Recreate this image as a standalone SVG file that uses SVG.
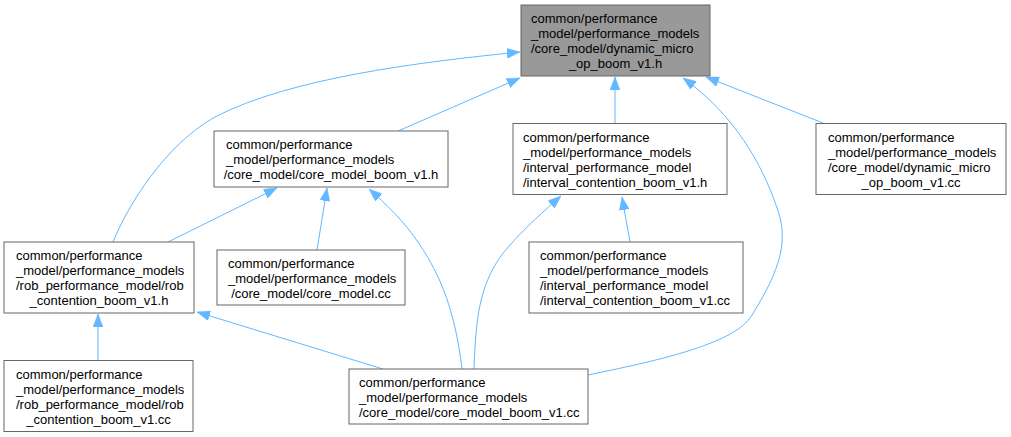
<svg xmlns="http://www.w3.org/2000/svg" width="1011" height="437" viewBox="0 0 1011 437">
<style>
.n rect{fill:#ffffff;stroke:#666666;stroke-width:1}
.n.cur rect{fill:#999999}
.n text{font-family:"Liberation Sans",Arial,Helvetica,sans-serif;font-size:13px;fill:#000000}
.n text.c{text-anchor:middle}
#edges path{fill:none;stroke:#63b8ff;stroke-width:1;marker-end:url(#arr)}
</style>
<defs>
<marker id="arr" markerUnits="userSpaceOnUse" viewBox="0 0 13 10" refX="13" refY="5" markerWidth="13" markerHeight="10" orient="auto">
<path d="M0,0 L13,5 L0,10 z" fill="#63b8ff" stroke="#63b8ff" stroke-width="0.5"/>
</marker>
</defs>
<rect width="1011" height="437" fill="#ffffff"/>
<g id="edges">
<path d="M113,242 C128,205 165,145 215,117 C290,78 420,62 520,52"/>
<path d="M398,131 L520,78"/>
<path d="M615,124 L615,77"/>
<path d="M823,123 L706,77"/>
<path d="M588,375 C650,362 735,345 752,315 C780,270 790,240 776,205 C762,165 735,115 683,78"/>
<path d="M168,242 L277,188"/>
<path d="M317,250 L327,188"/>
<path d="M462,369 C455,310 440,275 420,245 C405,222 385,203 369,189"/>
<path d="M474,369 C476,320 478,280 510,245 C525,228 545,210 561,196"/>
<path d="M630,242 L622,197"/>
<path d="M98,360 L98,314"/>
<path d="M383,369 L197,312"/>
</g>
<g id="n_dynamic_h" class="n cur">
<rect x="521" y="5" width="189" height="71"/>
<text x="531" y="23">common/performance</text>
<text x="531" y="38">_model/performance_models</text>
<text x="531" y="53">/core_model/dynamic_micro</text>
<text class="c" x="615.5" y="68">_op_boom_v1.h</text>
</g>
<g id="n_core_model_boom_h" class="n">
<rect x="214" y="131" width="234" height="56"/>
<text x="226" y="149">common/performance</text>
<text x="226" y="164">_model/performance_models</text>
<text class="c" x="331" y="179">/core_model/core_model_boom_v1.h</text>
</g>
<g id="n_interval_h" class="n">
<rect x="513" y="123.5" width="214" height="71"/>
<text x="523" y="141.5">common/performance</text>
<text x="523" y="156.5">_model/performance_models</text>
<text x="523" y="171.5">/interval_performance_model</text>
<text x="523" y="186.5">/interval_contention_boom_v1.h</text>
</g>
<g id="n_dynamic_cc" class="n">
<rect x="816" y="123.5" width="190" height="71"/>
<text x="828" y="141.5">common/performance</text>
<text x="828" y="156.5">_model/performance_models</text>
<text x="828" y="171.5">/core_model/dynamic_micro</text>
<text class="c" x="911" y="186.5">_op_boom_v1.cc</text>
</g>
<g id="n_rob_h" class="n">
<rect x="4" y="242" width="190" height="71"/>
<text x="16" y="260">common/performance</text>
<text x="16" y="275">_model/performance_models</text>
<text x="16" y="290">/rob_performance_model/rob</text>
<text class="c" x="99" y="305">_contention_boom_v1.h</text>
</g>
<g id="n_core_model_cc" class="n">
<rect x="217" y="250" width="188" height="55"/>
<text x="228" y="268">common/performance</text>
<text x="228" y="283">_model/performance_models</text>
<text class="c" x="311" y="298">/core_model/core_model.cc</text>
</g>
<g id="n_interval_cc" class="n">
<rect x="529" y="242" width="214" height="71"/>
<text x="540" y="260">common/performance</text>
<text x="540" y="275">_model/performance_models</text>
<text x="540" y="290">/interval_performance_model</text>
<text x="540" y="305">/interval_contention_boom_v1.cc</text>
</g>
<g id="n_rob_cc" class="n">
<rect x="4" y="360.5" width="189" height="71"/>
<text x="16" y="378.5">common/performance</text>
<text x="16" y="393.5">_model/performance_models</text>
<text x="16" y="408.5">/rob_performance_model/rob</text>
<text class="c" x="98.5" y="423.5">_contention_boom_v1.cc</text>
</g>
<g id="n_core_model_boom_cc" class="n">
<rect x="349" y="369" width="239" height="55"/>
<text x="359" y="387">common/performance</text>
<text x="359" y="402">_model/performance_models</text>
<text x="359" y="417">/core_model/core_model_boom_v1.cc</text>
</g>
</svg>
